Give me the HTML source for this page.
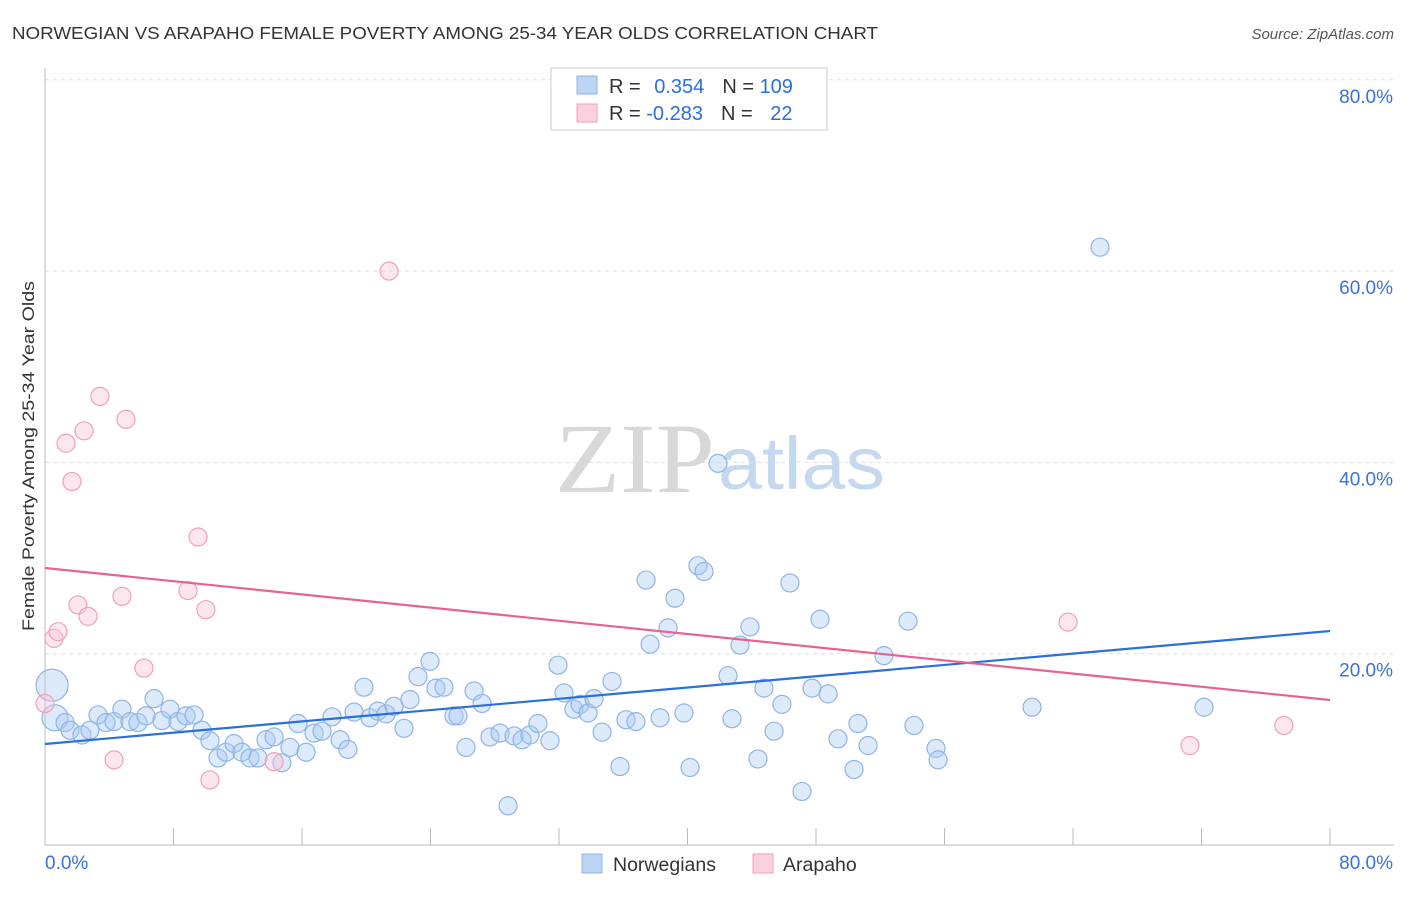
<!DOCTYPE html>
<html><head><meta charset="utf-8"><style>
body{margin:0;background:#fff;font-family:"Liberation Sans",sans-serif;}
</style></head><body>
<svg id="chart" width="1406" height="892" viewBox="0 0 1406 892" xmlns="http://www.w3.org/2000/svg" font-family="Liberation Sans, sans-serif">
<text x="12" y="39" font-size="17.5" fill="#333" textLength="866" lengthAdjust="spacingAndGlyphs">NORWEGIAN VS ARAPAHO FEMALE POVERTY AMONG 25-34 YEAR OLDS CORRELATION CHART</text>
<text x="1394" y="39" font-size="15" font-style="italic" fill="#555" text-anchor="end">Source: ZipAtlas.com</text>
<g id="grid"></g>
<g>
<text x="555" y="492" font-size="100" font-family="Liberation Serif, serif" fill="#d8d8d8" textLength="160" lengthAdjust="spacingAndGlyphs">ZIP</text>
<text x="718" y="489" font-size="74" font-family="Liberation Sans, sans-serif" fill="#c4d8f0" textLength="167" lengthAdjust="spacingAndGlyphs">atlas</text>
</g>
<line x1="45" y1="845" x2="1394" y2="845" stroke="#bbb"/>
<line x1="45" y1="68" x2="45" y2="845" stroke="#bbb"/>
<g id="ticks"></g>
<g id="ylabels"></g>
<text x="45" y="869" font-size="19" fill="#3a72d6">0.0%</text>
<text x="1393" y="869" font-size="19" fill="#3a72d6" text-anchor="end">80.0%</text>
<text transform="translate(34,456) rotate(-90)" font-size="17" fill="#333" text-anchor="middle" textLength="350" lengthAdjust="spacingAndGlyphs">Female Poverty Among 25-34 Year Olds</text>
<g id="pts-blue"></g>
<g id="pts-pink"></g>
<g id="lines"></g>
<g>
<rect x="551" y="68" width="276" height="62" fill="#fff" stroke="#ccc"/>
<rect x="577" y="76" width="20" height="18" fill="#bcd5f5" stroke="#8fb4e6"/>
<rect x="577" y="104" width="20" height="18" fill="#fbd0dd" stroke="#f0a0bb"/>
<text x="609" y="93" font-size="20" fill="#333">R = <tspan fill="#2a6fdb" dx="8">0.354</tspan><tspan dx="18" fill="#333">N = </tspan><tspan fill="#2a6fdb">109</tspan></text>
<text x="609" y="120" font-size="20" fill="#333">R = <tspan fill="#2a6fdb">-0.283</tspan><tspan dx="18" fill="#333">N = </tspan><tspan fill="#2a6fdb" dx="12">22</tspan></text>
</g>
<g>
<rect x="582" y="854" width="20" height="19" fill="#bcd5f5" stroke="#8fb4e6"/>
<text x="613" y="871" font-size="19.5" fill="#333">Norwegians</text>
<rect x="753" y="854" width="20" height="19" fill="#fbd0dd" stroke="#f0a0bb"/>
<text x="783" y="871" font-size="19.5" fill="#333">Arapaho</text>
</g>
</svg>
<script>
const blueX=[0.44,0.62,1.25,1.56,2.30,2.80,3.30,3.80,4.30,4.79,5.29,5.79,6.29,6.79,7.28,7.78,8.28,8.78,9.28,9.77,10.27,10.77,11.27,11.77,12.26,12.76,13.26,13.76,14.26,14.75,15.25,15.75,16.25,16.75,17.25,17.87,18.37,18.86,19.24,19.86,20.23,20.73,21.23,21.73,22.35,22.72,23.22,23.97,24.34,24.84,25.46,25.71,26.21,26.71,27.21,27.70,28.33,28.83,29.20,29.70,30.19,30.69,31.44,31.94,32.31,32.93,33.31,33.81,34.18,34.68,35.30,35.80,36.17,36.79,37.42,37.67,38.29,38.79,39.22,39.78,40.16,40.65,41.03,41.90,42.52,42.77,43.27,43.89,44.39,44.76,45.39,45.88,46.38,47.13,47.75,48.25,48.75,49.37,50.37,50.61,51.24,52.23,53.73,54.10,55.47,55.60,61.45,65.68,72.16];
const blueY=[16.7,13.3,12.8,12.0,11.5,12.0,13.6,12.8,12.9,14.2,12.9,12.8,13.5,15.3,13.0,14.2,12.9,13.5,13.6,12.0,10.9,9.1,9.7,10.6,9.7,9.1,9.1,11.0,11.3,8.6,10.2,12.7,9.7,11.7,11.9,13.4,11.0,10.0,13.9,16.5,13.3,14.0,13.7,14.5,12.2,15.2,17.6,19.2,16.4,16.5,13.5,13.5,10.2,16.1,14.8,11.3,11.7,4.1,11.4,11.0,11.5,12.7,10.9,18.8,15.9,14.2,14.7,13.8,15.3,11.8,17.1,8.2,13.1,12.9,27.7,21.0,13.3,22.7,25.8,13.8,8.1,29.2,28.6,39.9,17.7,13.2,20.9,22.8,9.0,16.4,11.9,14.7,27.4,5.6,16.4,23.6,15.8,11.1,7.9,12.7,10.4,19.8,23.4,12.5,10.1,8.9,14.4,62.5,14.4];
const pinkX=[0,0.56,0.81,1.31,1.68,2.05,2.43,2.68,3.42,4.30,4.79,5.04,6.16,8.90,9.53,10.02,10.27,14.26,21.42,63.69,71.28,77.13];
const pinkY=[14.8,21.6,22.3,42.0,38.0,25.1,43.3,23.9,46.9,8.9,26.0,44.5,18.5,26.6,32.2,24.6,6.8,8.7,60.0,23.3,10.4,12.5];
const blueTrend=[10.56,22.37];
const pinkTrend=[28.96,15.16];
const yTicks=[20,40,60,80];
const yTickLabels=["20.0%","40.0%","60.0%","80.0%"];
const xTicks=[0,8,16,24,32,40,48,56,64,72,80];

const NS="http://www.w3.org/2000/svg";
const sx=v=>45+v*(1285/80);
const sy=v=>845-v*(191.3/20);
function mk(tag,attrs,parent){const e=document.createElementNS(NS,tag);for(const k in attrs)e.setAttribute(k,attrs[k]);document.getElementById(parent).appendChild(e);return e;}
yTicks.forEach((t,i)=>{
  const g=mk('line',{x1:45,x2:1394,y1:sy(t),y2:sy(t),stroke:'#ddd','stroke-dasharray':'4,4'},'grid');
  
  
  const l=mk('text',{x:1393,y:sy(t)+23,'font-size':19,fill:'#3a72d6','text-anchor':'end'},'ylabels');
  l.textContent=yTickLabels[i];
  
  
});
xTicks.forEach(t=>{
  const k=mk('line',{x1:sx(t),x2:sx(t),y1:828,y2:845,stroke:'#bbb'},'ticks');
  
  
});
blueX.forEach((x,i)=>{
  const r=i===0?16:(i===1?13:9);
  const c=mk('circle',{cx:sx(x),cy:sy(blueY[i]),r:r,fill:'rgba(170,202,242,0.4)',stroke:'#8fb4e6','stroke-width':1.2},'pts-blue');
  
  
});
pinkX.forEach((x,i)=>{
  const c=mk('circle',{cx:sx(x),cy:sy(pinkY[i]),r:9,fill:'rgba(250,196,214,0.4)',stroke:'#f0a0bb','stroke-width':1.2},'pts-pink');
  
  
});
const bl=mk('line',{x1:sx(0),y1:sy(blueTrend[0]),x2:sx(80),y2:sy(blueTrend[1]),stroke:'#2a6fdb','stroke-width':2.2},'lines');


const pl=mk('line',{x1:sx(0),y1:sy(pinkTrend[0]),x2:sx(80),y2:sy(pinkTrend[1]),stroke:'#e8628f','stroke-width':2.2},'lines');


</script>
</body></html>
